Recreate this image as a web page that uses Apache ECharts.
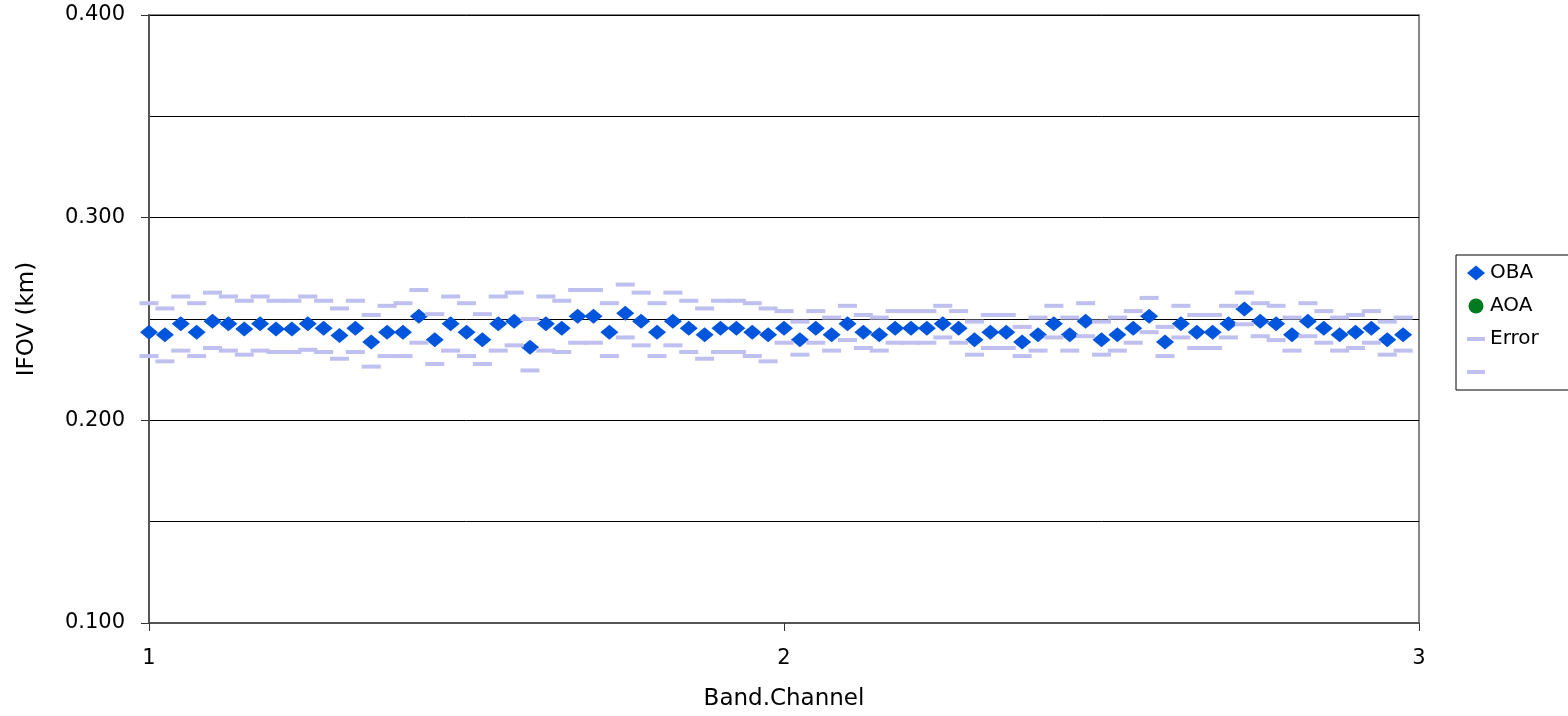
<!DOCTYPE html>
<html>
<head>
<meta charset="utf-8">
<title>IFOV by Band.Channel</title>
<script src="https://cdn.jsdelivr.net/npm/echarts@6/dist/echarts.min.js"></script>
<style>
  html, body { margin: 0; padding: 0; background: #ffffff; }
  #chart { width: 1568px; height: 716px; }
</style>
</head>
<body>
<div id="chart"></div>
<script>
// Band.Channel positions of the measurements
const channels = [
  1.000, 1.025, 1.050, 1.075, 1.100, 1.125, 1.150, 1.175, 1.200, 1.225,
  1.250, 1.275, 1.300, 1.325, 1.350, 1.375, 1.400, 1.425, 1.450, 1.475,
  1.500, 1.525, 1.550, 1.575, 1.600, 1.625, 1.650, 1.675, 1.700, 1.725,
  1.750, 1.775, 1.800, 1.825, 1.850, 1.875, 1.900, 1.925, 1.950, 1.975,
  2.000, 2.025, 2.050, 2.075, 2.100, 2.125, 2.150, 2.175, 2.200, 2.225,
  2.250, 2.275, 2.300, 2.325, 2.350, 2.375, 2.400, 2.425, 2.450, 2.475,
  2.500, 2.525, 2.550, 2.575, 2.600, 2.625, 2.650, 2.675, 2.700, 2.725,
  2.750, 2.775, 2.800, 2.825, 2.850, 2.875, 2.900, 2.925, 2.950, 2.975
];

// OBA IFOV (km)
const obaValues = [
  0.2435, 0.2422, 0.2476, 0.2435, 0.2489, 0.2476, 0.2451, 0.2476, 0.2451, 0.2451,
  0.2476, 0.2454, 0.2418, 0.2454, 0.2386, 0.2435, 0.2435, 0.2513, 0.2397, 0.2476,
  0.2435, 0.2397, 0.2476, 0.2489, 0.2361, 0.2476, 0.2454, 0.2513, 0.2513, 0.2435,
  0.2528, 0.2489, 0.2435, 0.2489, 0.2454, 0.2422, 0.2454, 0.2454, 0.2435, 0.2422,
  0.2454, 0.2397, 0.2454, 0.2422, 0.2476, 0.2435, 0.2422, 0.2454, 0.2454, 0.2454,
  0.2476, 0.2454, 0.2397, 0.2435, 0.2435, 0.2386, 0.2422, 0.2476, 0.2422, 0.2489,
  0.2397, 0.2422, 0.2454, 0.2513, 0.2386, 0.2476, 0.2435, 0.2435, 0.2476, 0.2549,
  0.2489, 0.2476, 0.2422, 0.2489, 0.2454, 0.2422, 0.2435, 0.2454, 0.2397, 0.2422
];

// AOA IFOV (km): no values in this set
const aoaValues = [];

// Upper error limits
const errorUpper = [
  0.2578, 0.2552, 0.2611, 0.2578, 0.2630, 0.2611, 0.2590, 0.2611, 0.2590, 0.2590,
  0.2611, 0.2590, 0.2552, 0.2590, 0.2520, 0.2565, 0.2578, 0.2643, 0.2524, 0.2611,
  0.2578, 0.2524, 0.2611, 0.2630, 0.2500, 0.2611, 0.2590, 0.2643, 0.2643, 0.2578,
  0.2670, 0.2630, 0.2578, 0.2630, 0.2590, 0.2552, 0.2590, 0.2590, 0.2578, 0.2552,
  0.2539, 0.2487, 0.2539, 0.2507, 0.2565, 0.2520, 0.2507, 0.2539, 0.2539, 0.2539,
  0.2565, 0.2539, 0.2487, 0.2520, 0.2520, 0.2461, 0.2507, 0.2565, 0.2507, 0.2578,
  0.2487, 0.2507, 0.2539, 0.2604, 0.2461, 0.2565, 0.2520, 0.2520, 0.2565, 0.2630,
  0.2578, 0.2565, 0.2507, 0.2578, 0.2539, 0.2507, 0.2520, 0.2539, 0.2487, 0.2507
];

// Lower error limits
const errorLower = [
  0.2317, 0.2291, 0.2344, 0.2317, 0.2357, 0.2344, 0.2324, 0.2344, 0.2337, 0.2337,
  0.2348, 0.2337, 0.2304, 0.2337, 0.2265, 0.2317, 0.2317, 0.2383, 0.2278, 0.2344,
  0.2317, 0.2278, 0.2344, 0.2370, 0.2246, 0.2344, 0.2337, 0.2383, 0.2383, 0.2317,
  0.2409, 0.2370, 0.2317, 0.2370, 0.2337, 0.2304, 0.2337, 0.2337, 0.2317, 0.2291,
  0.2383, 0.2324, 0.2383, 0.2344, 0.2396, 0.2357, 0.2344, 0.2383, 0.2383, 0.2383,
  0.2409, 0.2383, 0.2324, 0.2357, 0.2357, 0.2317, 0.2344, 0.2409, 0.2344, 0.2415,
  0.2324, 0.2344, 0.2383, 0.2435, 0.2317, 0.2409, 0.2357, 0.2357, 0.2409, 0.2474,
  0.2415, 0.2396, 0.2344, 0.2415, 0.2383, 0.2344, 0.2357, 0.2383, 0.2324, 0.2344
];

// Axis tick labels
const xTickLabels = { 1: '1', 2: '2', 3: '3' };
const yTickLabels = ['0.100', '0.200', '0.300', '0.400'];

const seriesNames = ['OBA', 'AOA', 'Error', ' '];

function pairs(xs, ys) {
  return ys.map((y, i) => [xs[i], y]);
}

// Flat bar used for the error-limit legend keys (bounding box matches the key cell)
const dashIcon = 'path://M0,0M18,15M0,5.5h18v4h-18z';

const chart = echarts.init(document.getElementById('chart'), null, { renderer: 'canvas' });

chart.setOption({
  animation: false,
  backgroundColor: '#ffffff',
  grid: {
    left: 149, right: 149, top: 15, bottom: 88,
    show: true,
    borderColor: '#888888',
    borderWidth: 2,
    backgroundColor: '#ffffff'
  },
  legend: {
    orient: 'vertical',
    left: 1456,
    top: 255,
    padding: [8, 60, 8, 11],
    itemGap: 13,
    itemWidth: 18,
    itemHeight: 15,
    borderColor: '#000000',
    borderWidth: 1,
    selectedMode: false,
    textStyle: { fontFamily: 'DejaVu Sans', fontSize: 20, color: '#000000' },
    data: [
      { name: seriesNames[0], icon: 'diamond' },
      { name: seriesNames[1], icon: 'circle' },
      { name: seriesNames[2], icon: dashIcon },
      { name: seriesNames[3], icon: dashIcon }
    ]
  },
  xAxis: {
    type: 'value',
    min: 1,
    max: 3,
    interval: 1,
    name: 'Band.Channel',
    nameLocation: 'middle',
    nameGap: 65,
    nameTextStyle: { fontFamily: 'DejaVu Sans', fontSize: 23, color: '#000000' },
    axisLine: { show: true, onZero: false, lineStyle: { color: '#555555', width: 2 } },
    axisTick: { show: true, length: 8, lineStyle: { color: '#333333', width: 1 } },
    axisLabel: {
      margin: 25,
      fontFamily: 'DejaVu Sans',
      fontSize: 21,
      color: '#000000',
      formatter: v => xTickLabels[Math.round(v)] || ''
    },
    splitLine: { show: false }
  },
  yAxis: {
    type: 'value',
    min: 0.1,
    max: 0.4,
    interval: 0.1,
    name: 'IFOV (km)',
    nameLocation: 'middle',
    nameRotate: 90,
    nameGap: 110,
    nameTextStyle: { fontFamily: 'DejaVu Sans', fontSize: 23, color: '#000000' },
    axisLine: { show: true, onZero: false, lineStyle: { color: '#555555', width: 2 } },
    axisTick: { show: true, length: 8, lineStyle: { color: '#333333', width: 1 } },
    axisLabel: {
      margin: 24,
      fontFamily: 'DejaVu Sans',
      fontSize: 21,
      color: '#000000',
      formatter: v => yTickLabels[Math.round((v - 0.1) / 0.1)] || ''
    },
    splitLine: { show: true, lineStyle: { color: '#000000', width: 1 } },
    minorTick: { show: false, splitNumber: 2 },
    minorSplitLine: { show: true, lineStyle: { color: '#000000', width: 1 } }
  },
  series: [
    {
      name: seriesNames[0],
      type: 'scatter',
      symbol: 'diamond',
      symbolSize: [18, 15],
      itemStyle: { color: '#0055DD', opacity: 1 },
      emphasis: { disabled: true },
      data: pairs(channels, obaValues),
      z: 2
    },
    {
      name: seriesNames[1],
      type: 'scatter',
      symbol: 'circle',
      symbolSize: 12,
      itemStyle: { color: '#007A1F', opacity: 1 },
      data: pairs(channels, aoaValues),
      z: 2
    },
    {
      name: seriesNames[2],
      type: 'scatter',
      symbol: 'rect',
      symbolSize: [19, 4],
      itemStyle: { color: '#BFBFF0', opacity: 1 },
      emphasis: { disabled: true },
      data: pairs(channels, errorUpper),
      z: 3
    },
    {
      name: seriesNames[3],
      type: 'scatter',
      symbol: 'rect',
      symbolSize: [19, 4],
      itemStyle: { color: '#BFBFF0', opacity: 1 },
      emphasis: { disabled: true },
      data: pairs(channels, errorLower),
      z: 3
    }
  ]
});
</script>
</body>
</html>
